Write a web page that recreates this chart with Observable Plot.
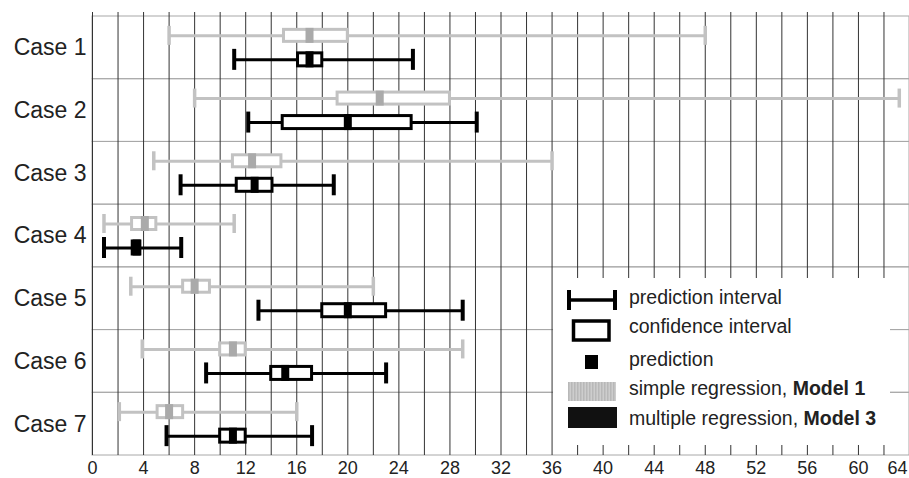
<!DOCTYPE html>
<html><head><meta charset="utf-8">
<script src="https://cdn.jsdelivr.net/npm/d3@7"></script>
<script src="https://cdn.jsdelivr.net/npm/@observablehq/plot@0.6"></script>
<style>
body{margin:0;background:#fff;}
#wrap{position:relative;width:909px;height:478px;font-family:"Liberation Sans",Arial,sans-serif;}
#legend{position:absolute;left:553px;top:278px;width:337px;height:167px;background:#fff;}
</style></head><body><div id="wrap"></div>
<script>
// ---- data ----
const cases = ["Case 1","Case 2","Case 3","Case 4","Case 5","Case 6","Case 7"];
// Model 1: simple regression (grey)
const lo1 = [6, 8, 4.8, 0.9, 3.0, 3.9, 2.1];
const hi1 = [48, 63.2, 36, 11.1, 22, 29, 16];
const cl1 = [15, 19.2, 11, 3.1, 7.1, 10, 5.1];
const ch1 = [20, 28, 14.8, 5.0, 9.2, 12, 7.1];
const p1  = [17, 22.5, 12.5, 4.1, 8.0, 11, 6.0];
// Model 3: multiple regression (black)
const lo3 = [11.1, 12.2, 6.9, 0.9, 13.0, 8.9, 5.8];
const hi3 = [25.1, 30.1, 18.9, 6.95, 29, 23, 17.2];
const cl3 = [16.1, 14.9, 11.3, 3.15, 18, 14, 10];
const ch3 = [18, 25, 14.1, 3.75, 23, 17.2, 12];
const p3  = [17, 20, 12.7, 3.45, 20, 15.1, 11];
const xTicks = [0,4,8,12,16,20,24,28,32,36,40,44,48,52,56,60,64];
const xGrid = d3.range(0, 65, 2);

const rows1 = cases.map((c,i)=>({case:c, lo:lo1[i], hi:hi1[i], cl:cl1[i], ch:ch1[i], p:p1[i]}));
const rows3 = cases.map((c,i)=>({case:c, lo:lo3[i], hi:hi3[i], cl:cl3[i], ch:ch3[i], p:p3[i]}));

const W = 909, H = 478, mT = 16, mB = 23, mL = 92, mR = 0;
const bw = (H - mT - mB) / cases.length;
const ins = h => (bw - h) / 2;

function modelMarks(rows, col, mcol, dy, capH, capW, boxH) {
  return [
    Plot.ruleY(rows, {y:"case", x1:"lo", x2:"hi", stroke: col, strokeWidth: 3, dy}),
    Plot.tickX(rows, {x:"lo", y:"case", stroke: col, strokeWidth: capW, insetTop: ins(capH), insetBottom: ins(capH), dy}),
    Plot.tickX(rows, {x:"hi", y:"case", stroke: col, strokeWidth: capW, insetTop: ins(capH), insetBottom: ins(capH), dy}),
    Plot.barX(rows, {x1:"cl", x2:"ch", y:"case", fill:"white", stroke: col, strokeWidth: 3, insetTop: ins(boxH-3), insetBottom: ins(boxH-3), dy}),
    Plot.tickX(rows, {x:"p", y:"case", stroke: mcol, strokeWidth: 8, insetTop: ins(boxH), insetBottom: ins(boxH), dy})
  ];
}

const chart = Plot.plot({
  width: W, height: H,
  marginTop: mT, marginBottom: mB, marginLeft: mL, marginRight: mR,
  style: {fontFamily: '"Liberation Sans", Arial, sans-serif', color: "#222", background: "white"},
  x: {domain: [0, 64]},
  y: {domain: cases, padding: 0, round: false},
  marks: [
    Plot.cell(cases, {y: d => d, fill: "none", stroke: "#a8a8a8", strokeWidth: 1}),
    Plot.ruleX(xGrid, {stroke: "#333", strokeWidth: 1, insetTop: -4}),
    ...modelMarks(rows1, "#c2c2c2", "#aaaaaa", -12, 19, 3.5, 15),
    ...modelMarks(rows3, "#000", "#000", 12, 21, 4, 16),
    Plot.axisX(xTicks.slice(0, -1), {tickSize: 0, tickPadding: 5.5, fontSize: 18, label: null}),
    Plot.axisX(xTicks.slice(-1), {tickSize: 0, tickPadding: 5.5, fontSize: 18, label: null, dx: -12}),
    Plot.axisY({tickSize: 0, tickPadding: 6, fontSize: 23, label: null})
  ]
});
const wrap = document.getElementById("wrap");
wrap.appendChild(chart);

// ---- legend ----
const lg = d3.select(wrap).append("div").attr("id", "legend");
const svg = lg.append("svg").attr("width", 337).attr("height", 167)
  .style("font-family", '"Liberation Sans", Arial, sans-serif');
const defs = svg.append("defs");
const pat = defs.append("pattern").attr("id", "stripe").attr("patternUnits", "userSpaceOnUse")
  .attr("width", 3).attr("height", 4);
pat.append("rect").attr("width", 3).attr("height", 4).attr("fill", "#cdcdcd");
pat.append("rect").attr("width", 1.5).attr("height", 4).attr("fill", "#b8b8b8");
// prediction interval symbol
svg.append("line").attr("x1", 15).attr("x2", 63).attr("y1", 22).attr("y2", 22).attr("stroke", "#000").attr("stroke-width", 3.5);
svg.append("line").attr("x1", 16).attr("x2", 16).attr("y1", 12).attr("y2", 32).attr("stroke", "#000").attr("stroke-width", 4);
svg.append("line").attr("x1", 62).attr("x2", 62).attr("y1", 12).attr("y2", 32).attr("stroke", "#000").attr("stroke-width", 4);
// confidence interval
svg.append("rect").attr("x", 20.5).attr("y", 43).attr("width", 35.5).attr("height", 19).attr("fill", "#fff").attr("stroke", "#000").attr("stroke-width", 3.5);
// prediction
svg.append("rect").attr("x", 32).attr("y", 77).attr("width", 13).attr("height", 14).attr("fill", "#000");
// model swatches
svg.append("rect").attr("x", 15).attr("y", 104).attr("width", 48).attr("height", 19).attr("fill", "url(#stripe)");
svg.append("rect").attr("x", 15).attr("y", 129).attr("width", 49).attr("height", 21).attr("fill", "#111");
const labels = [
  {y: 26, t: "prediction interval"},
  {y: 55, t: "confidence interval"},
  {y: 88, t: "prediction"},
  {y: 117, t: "simple regression, ", b: "Model 1"},
  {y: 147, t: "multiple regression, ", b: "Model 3"}
];
labels.forEach(l => {
  const tx = svg.append("text").attr("x", 76).attr("y", l.y).attr("font-size", 19.5).attr("fill", "#222");
  tx.append("tspan").text(l.t);
  if (l.b) tx.append("tspan").attr("font-weight", "bold").text(l.b);
});
</script></body></html>
